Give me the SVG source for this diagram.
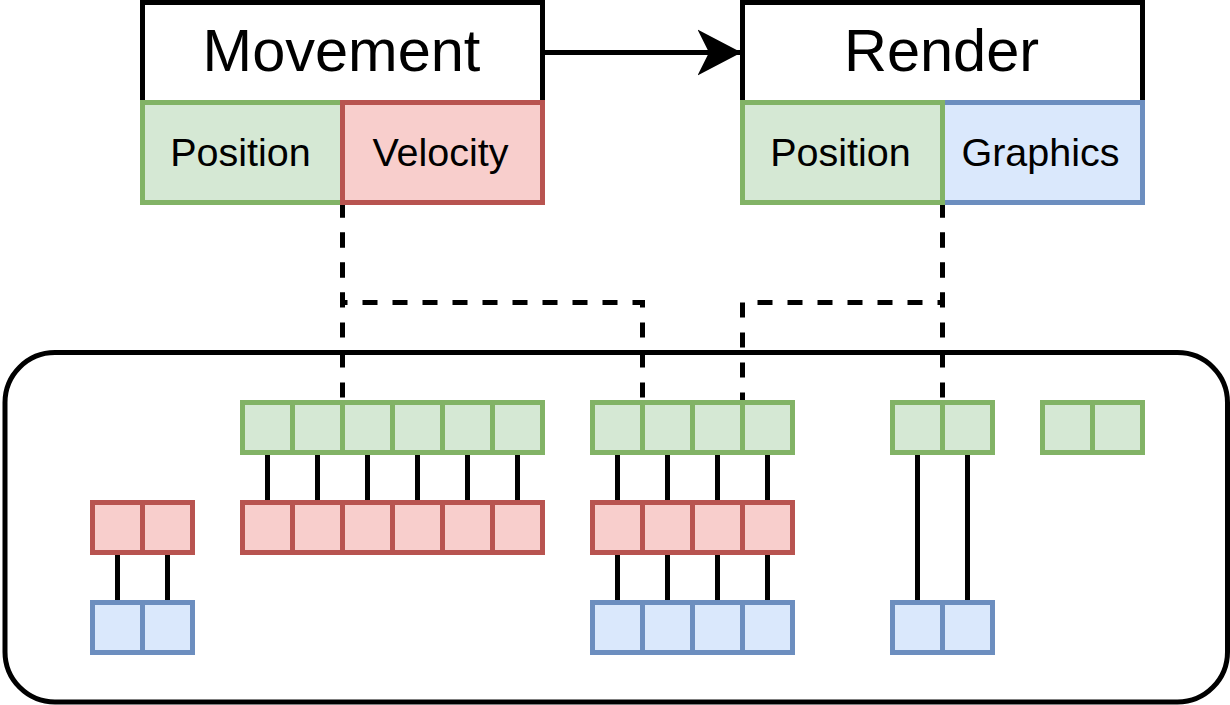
<svg xmlns="http://www.w3.org/2000/svg" width="1230" height="705" viewBox="0 0 1230 705">
<defs>
<style>
.g{fill:#d5e8d4;stroke:#82b366;stroke-width:5}
.r{fill:#f8cecc;stroke:#b85450;stroke-width:5}
.b{fill:#dae8fc;stroke:#6c8ebf;stroke-width:5}
.k{fill:#ffffff;stroke:#000000;stroke-width:5}
.e{fill:none;stroke:#000000;stroke-width:5}
.d{stroke-dasharray:15 15}
.t{font-family:"Liberation Sans",Arial,sans-serif;fill:#000000;text-anchor:middle}
.big{font-size:59.5px}
.sm{font-size:39.5px}
</style>
<marker id="arr" markerUnits="userSpaceOnUse" viewBox="0 0 45 47" refX="44" refY="23.5" markerWidth="45" markerHeight="47" orient="auto">
<path d="M44,23.5 L0,0.5 L11.5,23.5 L0,46.5 Z" fill="#000000" stroke="none"/>
</marker>
</defs>
<rect width="1230" height="705" fill="#ffffff"/>
<g transform="translate(0.5,0.5)">
<g id="container">
<rect class="k" x="4.5" y="352" width="1222.5" height="349.5" rx="50" ry="50"/>
</g>
<g id="connectors">
<line class="e" x1="542" y1="52" x2="741" y2="52" marker-end="url(#arr)"/>
<path class="e d" d="M342,202 V402"/>
<path class="e d" d="M342,202 V302 H642 V402"/>
<path class="e d" d="M942,202 V402"/>
<path class="e d" d="M942,202 V302 H742 V402"/>
<path class="e" d="M267,452V502M317,452V502M367,452V502M417,452V502M467,452V502M517,452V502M617,452V502M667,452V502M717,452V502M767,452V502"/>
<path class="e" d="M117,552V602M167,552V602M617,552V602M667,552V602M717,552V602M767,552V602"/>
<path class="e" d="M917,452V602M967,452V602"/>
</g>
<g id="movement">
<rect class="k" x="142" y="2" width="400" height="100"/>
<text class="t big" x="341" y="70">Movement</text>
</g>
<g id="movement-position">
<rect class="g" x="142" y="102" width="200" height="100"/>
<text class="t sm" x="240" y="165">Position</text>
</g>
<g id="movement-velocity">
<rect class="r" x="342" y="102" width="200" height="100"/>
<text class="t sm" x="440" y="165">Velocity</text>
</g>
<g id="render">
<rect class="k" x="742" y="2" width="400" height="100"/>
<text class="t big" x="941" y="70">Render</text>
</g>
<g id="render-graphics">
<rect class="b" x="942" y="102" width="200" height="100"/>
<text class="t sm" x="1040" y="165">Graphics</text>
</g>
<g id="render-position">
<rect class="g" x="742" y="102" width="200" height="100"/>
<text class="t sm" x="840" y="165">Position</text>
</g>
<g id="pos-array-1">
<rect class="g" x="242" y="402" width="50" height="50"/>
<rect class="g" x="292" y="402" width="50" height="50"/>
<rect class="g" x="342" y="402" width="50" height="50"/>
<rect class="g" x="392" y="402" width="50" height="50"/>
<rect class="g" x="442" y="402" width="50" height="50"/>
<rect class="g" x="492" y="402" width="50" height="50"/>
</g>
<g id="pos-array-2">
<rect class="g" x="592" y="402" width="50" height="50"/>
<rect class="g" x="642" y="402" width="50" height="50"/>
<rect class="g" x="692" y="402" width="50" height="50"/>
<rect class="g" x="742" y="402" width="50" height="50"/>
</g>
<g id="pos-array-3">
<rect class="g" x="892" y="402" width="50" height="50"/>
<rect class="g" x="942" y="402" width="50" height="50"/>
</g>
<g id="pos-array-4">
<rect class="g" x="1042" y="402" width="50" height="50"/>
<rect class="g" x="1092" y="402" width="50" height="50"/>
</g>
<g id="vel-array-0">
<rect class="r" x="92" y="502" width="50" height="50"/>
<rect class="r" x="142" y="502" width="50" height="50"/>
</g>
<g id="vel-array-1">
<rect class="r" x="242" y="502" width="50" height="50"/>
<rect class="r" x="292" y="502" width="50" height="50"/>
<rect class="r" x="342" y="502" width="50" height="50"/>
<rect class="r" x="392" y="502" width="50" height="50"/>
<rect class="r" x="442" y="502" width="50" height="50"/>
<rect class="r" x="492" y="502" width="50" height="50"/>
</g>
<g id="vel-array-2">
<rect class="r" x="592" y="502" width="50" height="50"/>
<rect class="r" x="642" y="502" width="50" height="50"/>
<rect class="r" x="692" y="502" width="50" height="50"/>
<rect class="r" x="742" y="502" width="50" height="50"/>
</g>
<g id="gfx-array-0">
<rect class="b" x="92" y="602" width="50" height="50"/>
<rect class="b" x="142" y="602" width="50" height="50"/>
</g>
<g id="gfx-array-2">
<rect class="b" x="592" y="602" width="50" height="50"/>
<rect class="b" x="642" y="602" width="50" height="50"/>
<rect class="b" x="692" y="602" width="50" height="50"/>
<rect class="b" x="742" y="602" width="50" height="50"/>
</g>
<g id="gfx-array-3">
<rect class="b" x="892" y="602" width="50" height="50"/>
<rect class="b" x="942" y="602" width="50" height="50"/>
</g>
</g>
</svg>
